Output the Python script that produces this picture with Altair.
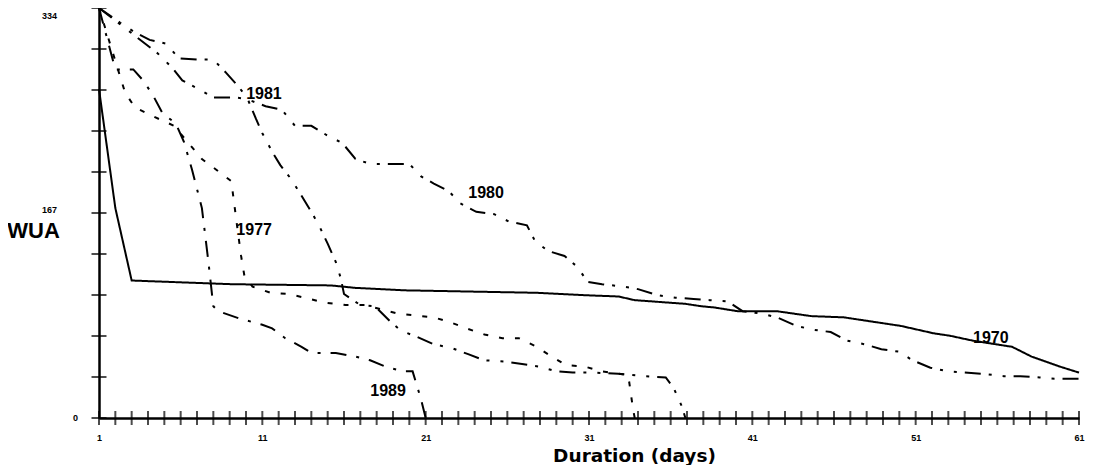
import altair as alt
import pandas as pd

# ---------------- data ----------------
series_names = ["1970", "1977", "1980", "1981", "1989"]

days_1970 = [1, 2, 3, 9.1, 15.2, 16.7, 19.7, 27.8, 30.8, 32.8, 33.8, 36.9, 37.9, 38.7, 40.1,
             42.5, 44.6, 46.6, 48.6, 50.1, 52.1, 53.1, 54.5, 56.9, 58.1, 59.8, 61]
wua_1970 = [268, 171, 112, 109, 108, 106, 104, 102, 100, 99, 96, 93, 91, 90, 87,
            87, 83, 82, 78, 75, 69, 67, 63, 58, 50, 42, 37]

days_1977 = [1, 2.6, 3.2, 4.1, 5.6, 7.3, 8.2, 9.1, 9.4, 9.7, 9.9, 10.4, 11.5, 12.6, 13.6,
             14.8, 16.1, 17.3, 19.3, 21.5, 22.5, 23.5, 24.6, 25.7, 26.7, 27.8, 28.6, 29.6,
             30.7, 31.8, 33.4, 33.7, 33.8]
wua_1977 = [334, 265, 253, 247, 238, 211, 202, 193, 162, 132, 116, 107, 102, 101, 98,
            94, 92, 92, 85, 82, 78, 73, 68, 65, 65, 58, 51, 43,
            42, 38, 35, 7, 0]

days_1980 = [1, 4.6, 5.5, 6.1, 7.1, 8, 9.4, 10, 11.2, 12.2, 13, 14, 15, 15.9, 16.7, 17.6,
             20, 20.7, 21.5, 22.4, 23.1, 24.1, 25.2, 26.1, 27.2, 27.7, 28.5, 29.5, 30.3,
             30.9, 31.8, 33.1, 34, 35.2, 36.3, 37.4, 38.4, 39.5, 40.4, 41.6, 42.5, 43.7,
             44.7, 45.8, 46.8, 47.9, 48.9, 50, 50.8, 51.9, 53, 54, 55.1, 56.4, 57.4, 58.6,
             59.5, 61]
wua_1980 = [334, 297, 285, 275, 268, 261, 261, 260, 254, 251, 238, 238, 230, 224, 211, 207,
            207, 197, 191, 185, 175, 168, 166, 160, 157, 144, 136, 132, 123,
            111, 109, 107, 105, 100, 98, 97, 96, 95, 87, 85, 82, 75,
            72, 70, 63, 60, 56, 54, 47, 41, 38, 37, 36, 34, 34, 33,
            32, 32]

days_1981 = [1, 2.3, 3.1, 4.1, 5.1, 5.9, 7, 8, 8.8, 9.6, 10.1, 10.6, 11, 11.6, 12.1, 12.8,
             13.4, 14, 14.5, 15, 15.5, 15.8, 16, 17, 17.9, 18.8, 19.5, 20.5, 21.5, 22.6,
             23.6, 24.6, 25.8, 26.9, 27.9, 29, 30, 31.2, 32.8, 34.5, 35.7, 36.2, 36.7, 36.9]
wua_1981 = [334, 322, 315, 308, 305, 293, 292, 292, 281, 269, 260, 244, 232, 217, 206, 194,
            181, 168, 156, 142, 127, 114, 101, 92, 91, 79, 71, 66, 60, 57,
            52, 47, 46, 44, 42, 38, 37, 37, 36, 34, 33, 24, 9, 0]

days_1989 = [1, 2, 3.1, 3.7, 4.3, 4.9, 5.7, 6.2, 6.7, 7.3, 7.7, 8, 8.3, 9.6, 11, 11.6,
             12.4, 13.4, 14, 15.5, 16.7, 17.6, 18.7, 19.7, 20.2, 20.7, 21]
wua_1989 = [334, 284, 284, 275, 263, 248, 240, 225, 202, 171, 127, 91, 87, 81, 76, 73,
            65, 58, 53, 53, 50, 47, 41, 38, 38, 16, 0]

# series label anchors (data space)
label_text = ["1981", "1980", "1977", "1989", "1970"]
label_day = [11.1, 24.7, 10.5, 18.7, 55.6]
label_wua = [264, 183, 153, 22, 65]

# axis ticks / labels
x_tick_days = list(range(1, 62))
x_label_days = [1, 11, 21, 31, 41, 51, 61]
y_tick_values = [0, 33.4, 66.8, 100.2, 133.6, 167, 200.4, 233.8, 267.2, 300.6, 334]
y_label_max = [334]
y_label_mid = [167]
y_label_zero = [0]

# ---------------- build tables ----------------
all_days = [days_1970, days_1977, days_1980, days_1981, days_1989]
all_wua = [wua_1970, wua_1977, wua_1980, wua_1981, wua_1989]
rows = []
for name, ds, ws in zip(series_names, all_days, all_wua):
    for d, w in zip(ds, ws):
        rows.append({"series": name, "day": d, "wua": w})
df = pd.DataFrame(rows)

labels_df = pd.DataFrame({"label": label_text, "day": label_day, "wua": label_wua})
xt_df = pd.DataFrame({"day": x_tick_days, "wua": [0] * len(x_tick_days)})
yt_df = pd.DataFrame({"wua": y_tick_values, "day": [1] * len(y_tick_values)})


def ylab_df(vals):
    return pd.DataFrame({"wua": vals, "txt": [str(v) for v in vals]})


x_scale = alt.Scale(domain=[1, 61], nice=False, zero=False)
y_scale = alt.Scale(domain=[0, 334], nice=False, zero=False)

x_axis = alt.Axis(
    values=x_label_days, ticks=False, tickSize=0, grid=False,
    domainColor="black", domainWidth=2.5,
    labelFont="Liberation Sans", labelFontSize=9, labelFontWeight="bold", labelColor="black",
    labelPadding=15, labelFlush=False,
    title="Duration (days)", titleFont="DejaVu Sans", titleFontSize=18.5, titleFontWeight="bold",
    titleColor="black", titleX=535, titleY=37, titleAnchor="start", titleAlign="center",
    titleBaseline="middle",
)
y_axis = alt.Axis(
    ticks=False, tickSize=0, labels=False, grid=False,
    domainColor="black", domainWidth=2.5,
    title="WUA", titleAngle=0, titleFont="Liberation Sans", titleFontSize=22,
    titleFontWeight="bold", titleColor="black", titleX=-66, titleY=222,
    titleAlign="center", titleBaseline="middle", titleAnchor="start",
)

X = alt.X("day:Q", scale=x_scale, axis=x_axis)
Y = alt.Y("wua:Q", scale=y_scale, axis=y_axis)

lines = alt.Chart(df).mark_line(color="black", strokeWidth=2, strokeCap="butt").encode(
    x=X, y=Y,
    strokeDash=alt.StrokeDash(
        "series:N",
        scale=alt.Scale(
            domain=series_names,
            range=[[1, 0], [5, 11], [16, 8, 3, 11, 3, 8], [16, 8, 3, 11, 3, 8], [16, 10, 3, 10]],
        ),
        legend=None,
    ),
    detail="series:N",
)

x_ticks = alt.Chart(xt_df).mark_tick(orient="vertical", size=14, thickness=2, color="black").encode(
    x=X, y=Y
)
y_ticks = alt.Chart(yt_df).mark_tick(orient="horizontal", size=15, thickness=2, color="black").encode(
    x=X, y=Y
)

series_labels = alt.Chart(labels_df).mark_text(
    font="Liberation Sans", fontSize=16, fontWeight="bold", color="black",
    align="center", baseline="middle",
).encode(x=X, y=Y, text="label:N")


def ylab_layer(vals, xpix, dy):
    return alt.Chart(ylab_df(vals)).mark_text(
        font="Liberation Sans", fontSize=9, fontWeight="bold", color="black",
        align="right", baseline="middle", dy=dy,
    ).encode(x=alt.value(xpix), y=Y, text="txt:N")


y_max_label = ylab_layer(y_label_max, -42, 8)
y_mid_label = ylab_layer(y_label_mid, -42, -3)
y_zero_label = ylab_layer(y_label_zero, -21, 0)

chart = alt.layer(
    lines, x_ticks, y_ticks, series_labels, y_max_label, y_mid_label, y_zero_label
).properties(
    width=980, height=410,
    autosize=alt.AutoSizeParams(type="none"),
    padding={"left": 91, "top": 0, "right": 6, "bottom": 47},
    background="white",
).configure_view(stroke=None)

chart.save("out.html", embed_options={"renderer": "svg", "actions": False})
